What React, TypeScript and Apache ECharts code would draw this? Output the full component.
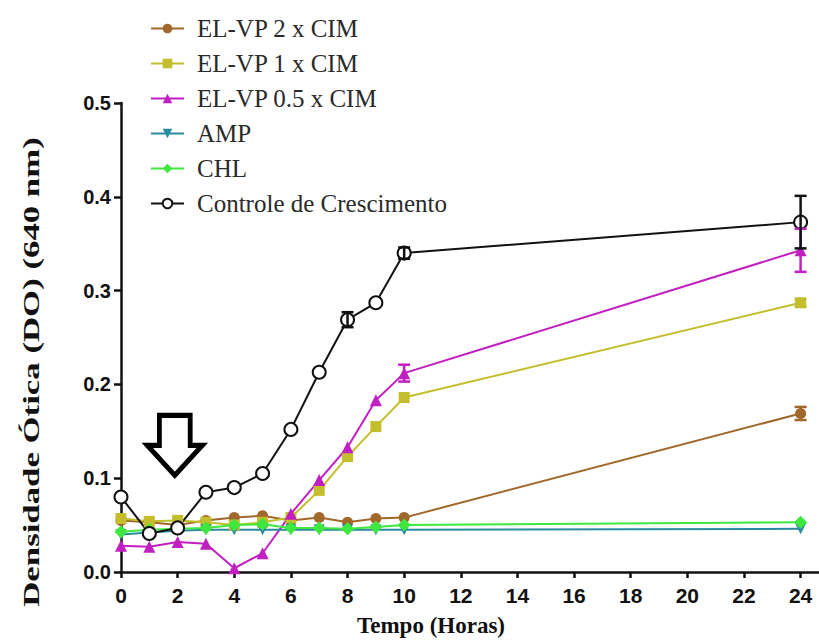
import React, { useEffect, useRef } from "react";
import * as echarts from "echarts";

const hours = [0, 1, 2, 3, 4, 5, 6, 7, 8, 9, 10, 24];
const xTicks = [0, 2, 4, 6, 8, 10, 12, 14, 16, 18, 20, 22, 24];

const seriesNames = [
  "EL-VP 2 x CIM",
  "EL-VP 1 x CIM",
  "EL-VP 0.5 x CIM",
  "AMP",
  "CHL",
  "Controle de Crescimento",
];

const elvp2x = [0.055, 0.053, 0.05, 0.055, 0.058, 0.06, 0.055, 0.058, 0.053, 0.057, 0.058, 0.169];
const elvp1x = [0.057, 0.054, 0.055, 0.053, 0.05, 0.053, 0.058, 0.087, 0.123, 0.155, 0.186, 0.287];
const elvp05x = [0.028, 0.027, 0.032, 0.03, 0.004, 0.02, 0.062, 0.098, 0.133, 0.183, 0.212, 0.343];
const amp = [0.04, 0.042, 0.044, 0.045, 0.045, 0.045, 0.045, 0.045, 0.045, 0.045, 0.045, 0.046];
const chl = [0.043, 0.045, 0.046, 0.047, 0.05, 0.051, 0.047, 0.047, 0.046, 0.048, 0.05, 0.053];
const control = [0.08, 0.041, 0.047, 0.085, 0.09, 0.105, 0.152, 0.213, 0.269, 0.287, 0.34, 0.373];

const elvp2xErr = [0, 0, 0, 0, 0, 0, 0, 0, 0, 0, 0, 0.007];
const elvp1xErr = [0, 0, 0, 0, 0, 0, 0, 0, 0, 0, 0, 0.004];
const elvp05xErr = [0, 0, 0, 0, 0, 0, 0, 0, 0, 0, 0.009, 0.023];
const controlErr = [0, 0, 0, 0, 0, 0, 0, 0, 0.008, 0, 0.006, 0.028];

const colors = ["#a2672a", "#c4be2c", "#c21fc2", "#2a8a9f", "#3ee83e", "#111111"];

const arrowPath = "path://M22,0 L78,0 L78,50 L100,50 L50,100 L0,50 L22,50 Z";

export default function App() {
  const ref = useRef<HTMLDivElement>(null);

  useEffect(() => {
    if (!ref.current) return;
    const chart = echarts.init(ref.current, undefined, { renderer: "svg" });

    const pairs = (vals: number[]) => hours.map((h, i) => [h, vals[i]]);
    const errData = (vals: number[], errs: number[]) =>
      hours.map((h, i) => [h, vals[i], errs[i]]).filter((d) => d[2] > 0);

    const lineSeries = (
      idx: number,
      vals: number[],
      symbol: string,
      size: number,
      extra: any = {}
    ) => ({
      name: seriesNames[idx],
      type: "line",
      data: pairs(vals),
      symbol,
      symbolSize: size,
      lineStyle: { color: colors[idx], width: 2 },
      itemStyle: { color: colors[idx] },
      ...extra,
    });

    const errSeries = (idx: number, vals: number[], errs: number[]) => ({
      type: "custom",
      name: seriesNames[idx] + " err",
      data: errData(vals, errs),
      z: 5,
      silent: true,
      renderItem: (params: any, api: any) => {
        const x = api.value(0);
        const y = api.value(1);
        const e = api.value(2);
        const top = api.coord([x, y + e]);
        const bot = api.coord([x, y - e]);
        const hw = 6;
        const style = { stroke: colors[idx], lineWidth: 2.5 };
        return {
          type: "group",
          children: [
            { type: "line", shape: { x1: top[0], y1: top[1], x2: bot[0], y2: bot[1] }, style },
            { type: "line", shape: { x1: top[0] - hw, y1: top[1], x2: top[0] + hw, y2: top[1] }, style },
            { type: "line", shape: { x1: bot[0] - hw, y1: bot[1], x2: bot[0] + hw, y2: bot[1] }, style },
          ],
        };
      },
    });

    chart.setOption({
      animation: false,
      backgroundColor: "#ffffff",
      grid: { left: 121, right: 0, top: 103, bottom: 69, containLabel: false },
      legend: {
        orient: "vertical",
        left: 145,
        top: 11,
        itemWidth: 33,
        itemHeight: 12,
        itemGap: 10,
        data: seriesNames,
        textStyle: {
          fontFamily: "Liberation Serif, Times New Roman, serif",
          fontSize: 25,
          color: "#2a2a2a",
          padding: [0, 0, 0, 8],
        },
      },
      xAxis: {
        type: "value",
        min: 0,
        max: 24.65,
        interval: 2,
        splitLine: { show: false },
        axisLine: { lineStyle: { color: "#111", width: 2.5 } },
        axisTick: {
          length: 6,
          lineStyle: { color: "#111", width: 2.5 },
          customValues: xTicks,
        },
        axisLabel: {
          customValues: xTicks,
          margin: 13,
          color: "#111",
          fontFamily: "Liberation Sans, Arial, sans-serif",
          fontWeight: "bold",
          fontSize: 21,
        },
      },
      yAxis: {
        type: "value",
        min: 0,
        max: 0.5,
        interval: 0.1,
        splitLine: { show: false },
        axisLine: { show: true, lineStyle: { color: "#111", width: 2.5 } },
        axisTick: { show: true, length: 7, lineStyle: { color: "#111", width: 2.5 } },
        axisLabel: {
          margin: 10,
          color: "#111",
          fontFamily: "Liberation Sans, Arial, sans-serif",
          fontWeight: "bold",
          fontSize: 20,
          formatter: (v: number) => v.toFixed(1),
        },
      },
      graphic: [
        {
          type: "text",
          x: 31,
          y: 372,
          rotation: Math.PI / 2,
          scaleX: 1.45,
          style: {
            text: "Densidade Ótica (DO) (640 nm)",
            fontFamily: "Liberation Serif, Times New Roman, serif",
            fontWeight: "bold",
            fontSize: 24,
            fill: "#111",
            align: "center",
            verticalAlign: "middle",
          },
        },
        {
          type: "text",
          x: 431,
          y: 625,
          style: {
            text: "Tempo (Horas)",
            fontFamily: "Liberation Serif, Times New Roman, serif",
            fontWeight: "bold",
            fontSize: 23,
            fill: "#111",
            align: "center",
            verticalAlign: "middle",
          },
        },
      ],
      series: [
        lineSeries(0, elvp2x, "circle", 11),
        lineSeries(1, elvp1x, "rect", 11),
        lineSeries(2, elvp05x, "triangle", 12),
        lineSeries(3, amp, "path://M0,0 L10,0 L5,10 Z", 11),
        lineSeries(4, chl, "diamond", 13),
        lineSeries(5, control, "emptyCircle", 13, {
          itemStyle: { color: colors[5], borderWidth: 3 },
          markPoint: {
            silent: true,
            symbol: arrowPath,
            symbolSize: [55, 60],
            symbolKeepAspect: false,
            label: { show: false },
            itemStyle: { color: "#ffffff", borderColor: "#000000", borderWidth: 5 },
            data: [{ coord: [1.9, 0.135] }],
          },
        }),
        errSeries(0, elvp2x, elvp2xErr),
        errSeries(1, elvp1x, elvp1xErr),
        errSeries(2, elvp05x, elvp05xErr),
        errSeries(5, control, controlErr),
      ],
    });

    return () => chart.dispose();
  }, []);

  return (
    <div
      ref={ref}
      style={{ position: "fixed", left: 0, top: 0, width: 819, height: 641 }}
    />
  );
}
